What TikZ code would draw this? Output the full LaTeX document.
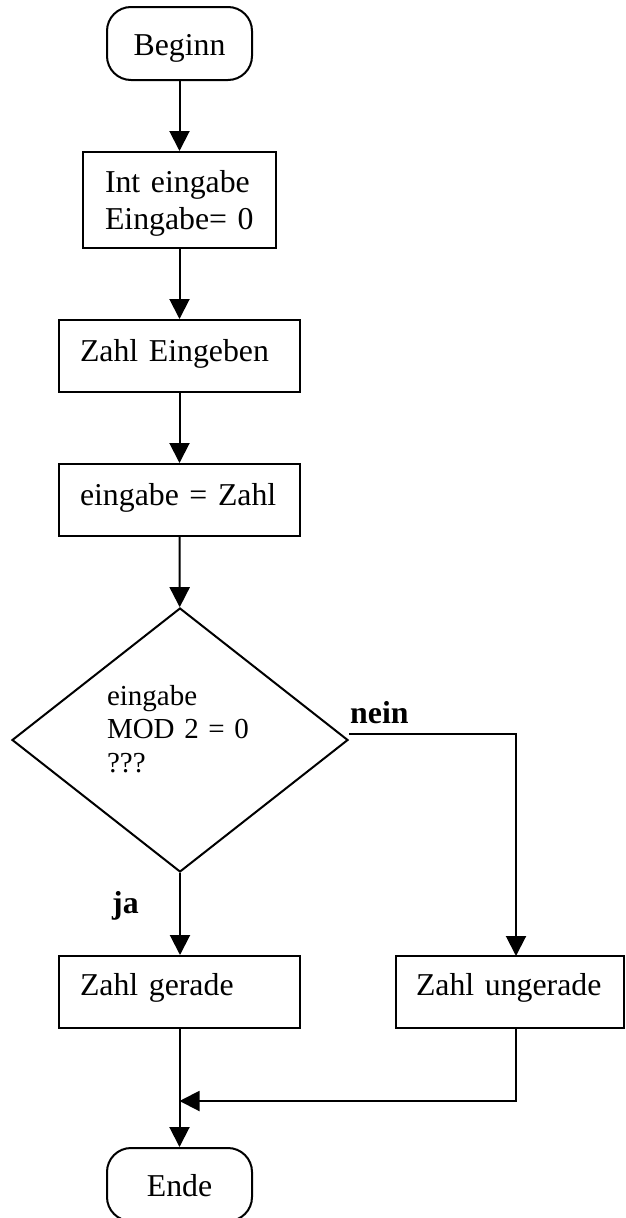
\documentclass[tikz,border=0pt]{standalone}
\usepackage{fontspec}
\setmainfont{Liberation Serif}
\usetikzlibrary{shapes.geometric,arrows.meta}
\begin{document}
\begin{tikzpicture}[x=1pt,y=-1pt,
  box/.style={draw, line width=2pt, rectangle, inner xsep=21pt, inner ysep=0pt,
    minimum height=72pt, align=left, font=\fontsize{31.8}{37}\selectfont},
  term/.style={draw, line width=2pt, rounded corners=24pt, minimum width=145pt,
    minimum height=73pt, inner sep=0pt, text height=30pt, text depth=7pt,
    font=\fontsize{31.8}{37}\selectfont},
  decision/.style={draw, line width=2pt, diamond, minimum width=336pt,
    minimum height=264pt, inner sep=0pt, text width=146pt, align=left,
    text height=22pt, text depth=92pt, font=\fontsize{29}{33.5}\selectfont},
  arr/.style={line width=2pt, -{Triangle[length=20pt,width=20pt]}},
  lab/.style={font=\bfseries\fontsize{31.8}{37}\selectfont, inner sep=0pt, anchor=base west}
]
\useasboundingbox (0,0) rectangle (626,1218);
\clip (0,0) rectangle (626,1218);
\fill[white] (0,0) rectangle (626,1218);

\node[term] (beginn) at (179.5,43.5) {Beginn};
\node[box, text width=149pt, inner xsep=22pt, minimum height=96pt,
      text height=22pt, text depth=38pt] (init) at (179.5,200) {Int eingabe\\Eingabe= 0};
\node[box, text width=199pt, text height=22pt, text depth=12pt] (eing) at (179.5,356) {Zahl Eingeben};
\node[box, text width=199pt, text height=22pt, text depth=12pt] (zuw) at (179.5,500) {eingabe = Zahl};
\node[decision] (dec) at (180,740) {eingabe\\MOD 2 = 0\\???};
\node[box, text width=199pt, text height=22pt, text depth=16pt] (ger) at (179.5,992) {Zahl gerade};
\node[box, text width=188pt, inner xsep=20pt, text height=22pt, text depth=16pt] (unger) at (510,992) {Zahl ungerade};
\node[term] (ende) at (179.5,1184.5) {Ende};

\node[lab] (nein) at (350,723) {nein};
\node[lab] (ja) at (112,913) {ja};

\coordinate (ntop) at (516,956);
\coordinate (merge) at (179.5,1101);

\draw[arr] (beginn) -- (init);
\draw[arr] (init) -- (eing);
\draw[arr] (eing) -- (zuw);
\draw[arr] (zuw) -- (dec);
\draw[arr] (dec.south) -- (dec.south |- ger.north);
\draw[arr] ([yshift=6pt]dec.east) -| (ntop);
\draw[arr] (ger) -- (ende);
\draw[arr] (unger.south -| ntop) |- (merge);
\end{tikzpicture}
\end{document}
